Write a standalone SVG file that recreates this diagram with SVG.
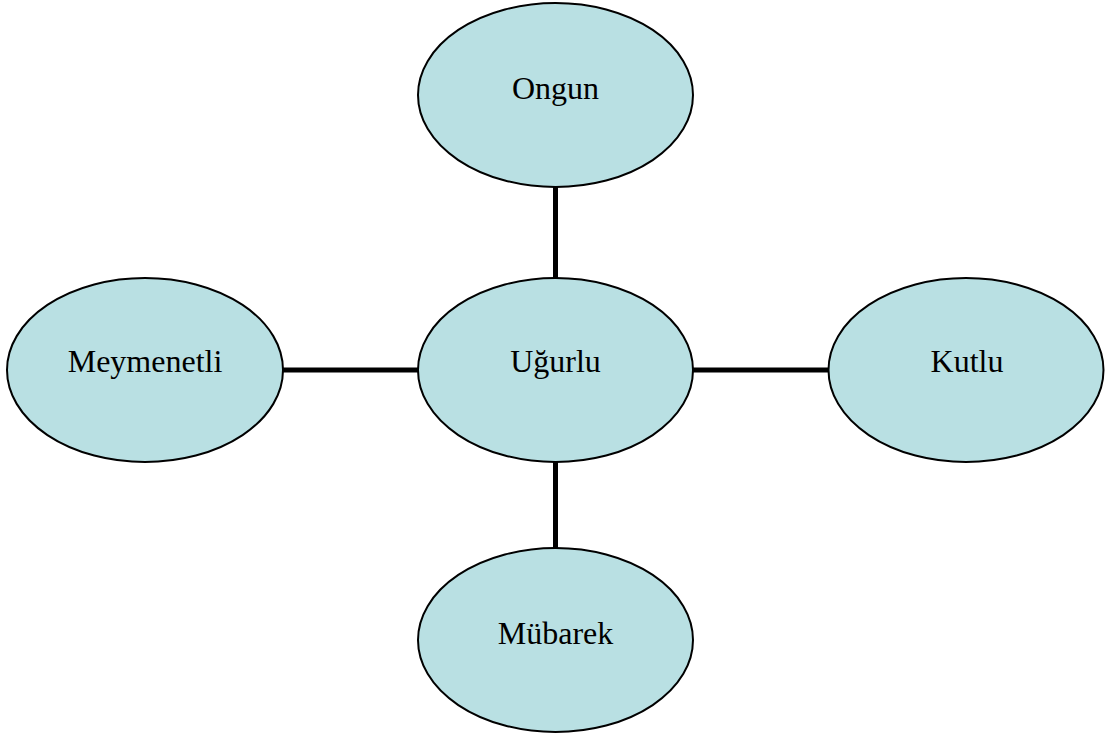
<svg xmlns="http://www.w3.org/2000/svg" width="1111" height="735" viewBox="0 0 1111 735">
<style>
.node ellipse{fill:#b9e0e3;stroke:#000;stroke-width:2}
.node text{font-family:"Liberation Serif","Times New Roman",serif;font-size:32px;fill:#000;text-anchor:middle}
.edge{stroke:#000;stroke-width:5;fill:none}
</style>
<rect width="1111" height="735" fill="#fff"/>
<g id="connectors">
<line class="edge" x1="555.5" y1="187" x2="555.5" y2="278"/>
<line class="edge" x1="555.5" y1="462" x2="555.5" y2="548"/>
<line class="edge" x1="283" y1="370" x2="418" y2="370"/>
<line class="edge" x1="693" y1="370" x2="829" y2="370"/>
</g>
<g id="ongun" class="node"><ellipse cx="555.5" cy="95" rx="137.5" ry="92"/><text x="555.5" y="99">Ongun</text></g>
<g id="ugurlu" class="node"><ellipse cx="555.5" cy="370" rx="137.5" ry="92"/><text x="555.5" y="372">Uğurlu</text></g>
<g id="meymenetli" class="node"><ellipse cx="145" cy="370" rx="138" ry="92"/><text x="145" y="372">Meymenetli</text></g>
<g id="kutlu" class="node"><ellipse cx="966" cy="370" rx="137.5" ry="92"/><text x="967" y="372">Kutlu</text></g>
<g id="mubarek" class="node"><ellipse cx="555.5" cy="640" rx="137.5" ry="92"/><text x="555.5" y="644">Mübarek</text></g>
</svg>
